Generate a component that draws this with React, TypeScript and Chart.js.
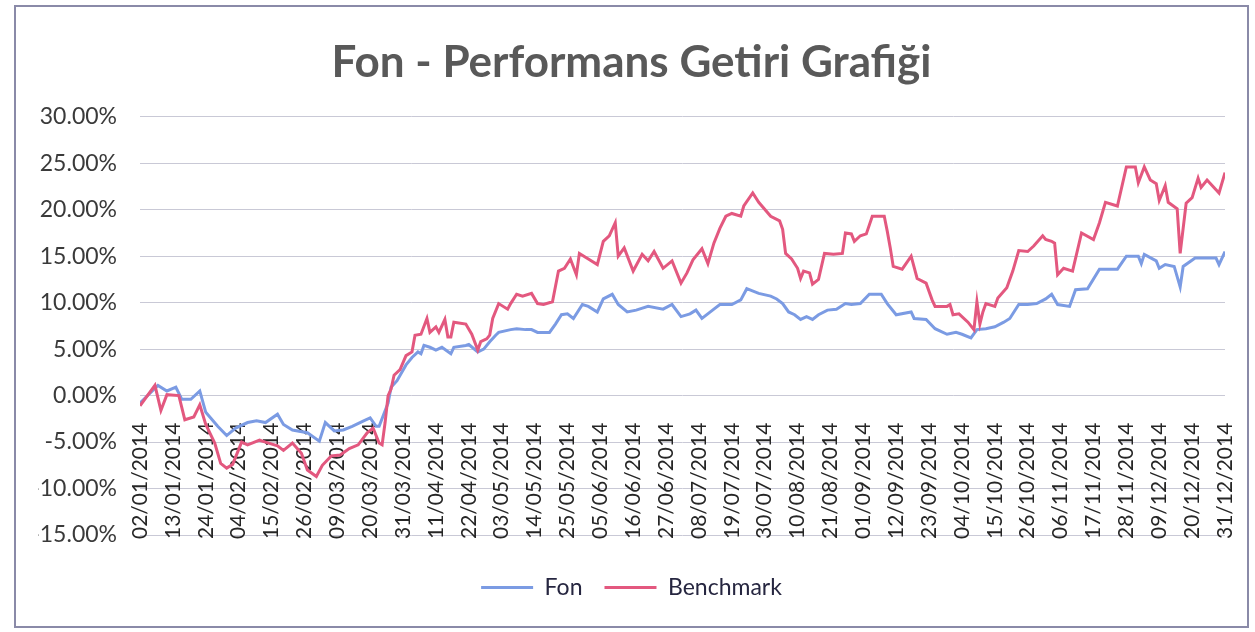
import React, { useEffect, useRef } from 'react';
import { Chart, registerables } from 'chart.js';

Chart.register(...registerables);

const chartTitle = 'Fon - Performans Getiri Grafiği';
const seriesNames = ['Fon', 'Benchmark'];

// x-axis labels every 11 days starting 02/01/2014
const tickLabels = [
  '02/01/2014', '13/01/2014', '24/01/2014', '04/02/2014', '15/02/2014', '26/02/2014',
  '09/03/2014', '20/03/2014', '31/03/2014', '11/04/2014', '22/04/2014', '03/05/2014',
  '14/05/2014', '25/05/2014', '05/06/2014', '16/06/2014', '27/06/2014', '08/07/2014',
  '19/07/2014', '30/07/2014', '10/08/2014', '21/08/2014', '01/09/2014', '12/09/2014',
  '23/09/2014', '04/10/2014', '15/10/2014', '26/10/2014', '06/11/2014', '17/11/2014',
  '28/11/2014', '09/12/2014', '20/12/2014', '31/12/2014',
];
const tickStepDays = 11;
const yTickValues = [-15, -10, -5, 0, 5, 10, 15, 20, 25, 30];

// days since 02/01/2014
const fonDays = [
  0, 6, 9, 12, 14, 17, 20, 22, 26, 29,
  32, 36, 39, 42, 46, 48, 51, 56, 60, 62,
  65, 68, 71, 75, 77, 79, 80, 83, 84, 86,
  89, 91, 93, 94, 95, 97, 99, 101, 104, 105,
  109, 110, 113, 115, 117, 119, 120, 124, 126, 129,
  131, 133, 137, 139, 141, 143, 145, 148, 150, 153,
  155, 158, 160, 163, 166, 170, 175, 178, 181, 184,
  186, 188, 192, 194, 198, 201, 203, 207, 211, 213,
  215, 217, 219, 221, 223, 225, 227, 230, 233, 236,
  238, 241, 244, 248, 250, 253, 258, 259, 263, 266,
  270, 273, 275, 278, 280, 283, 286, 289, 291, 294,
  297, 300, 303, 305, 307, 311, 313, 317, 321, 327,
  330, 334, 335, 336, 340, 341, 343, 346, 348, 349,
  353, 356, 360, 361, 363,
];
const fonValues = [
  -0.8, 1.1, 0.5, 0.9, -0.4, -0.4, 0.5, -1.8, -3.3, -4.3,
  -3.5, -2.9, -2.7, -2.9, -2.0, -3.1, -3.7, -4.0, -4.9, -2.9,
  -3.8, -3.7, -3.3, -2.7, -2.4, -3.3, -3.3, -0.8, 0.9, 1.6,
  3.3, 4.1, 4.7, 4.5, 5.4, 5.2, 4.9, 5.2, 4.5, 5.2,
  5.4, 5.5, 4.7, 5.0, 5.8, 6.5, 6.8, 7.1, 7.2, 7.1,
  7.1, 6.8, 6.8, 7.7, 8.7, 8.8, 8.3, 9.8, 9.6, 9.0,
  10.4, 10.9, 9.8, 9.0, 9.2, 9.6, 9.3, 9.8, 8.5, 8.8,
  9.2, 8.3, 9.3, 9.8, 9.8, 10.3, 11.5, 11.0, 10.7, 10.4,
  9.9, 9.0, 8.7, 8.2, 8.5, 8.2, 8.7, 9.2, 9.3, 9.9,
  9.8, 9.9, 10.9, 10.9, 9.9, 8.7, 9.0, 8.3, 8.2, 7.2,
  6.6, 6.8, 6.6, 6.2, 7.1, 7.2, 7.4, 7.9, 8.3, 9.8,
  9.8, 9.9, 10.4, 10.9, 9.8, 9.6, 11.4, 11.5, 13.6, 13.6,
  15.0, 15.0, 14.2, 15.2, 14.5, 13.7, 14.1, 13.9, 11.7, 13.9,
  14.8, 14.8, 14.8, 14.1, 15.5,
];

const benchDays = [
  0, 5, 7, 9, 13, 15, 18, 20, 22, 25,
  27, 29, 31, 34, 36, 40, 42, 46, 48, 51,
  54, 56, 59, 61, 64, 67, 70, 73, 76, 78,
  80, 81, 82, 83, 84, 85, 87, 89, 91, 92,
  94, 96, 97, 99, 100, 102, 103, 104, 105, 109,
  111, 113, 114, 116, 117, 118, 120, 123, 124, 126,
  128, 131, 133, 135, 138, 140, 142, 144, 146, 147,
  150, 153, 155, 157, 159, 160, 162, 165, 168, 170,
  172, 175, 178, 181, 183, 185, 188, 190, 192, 194,
  196, 198, 201, 202, 205, 207, 211, 214, 215, 216,
  218, 220, 221, 222, 224, 225, 227, 229, 232, 235,
  236, 238, 239, 241, 243, 245, 249, 250, 251, 252,
  255, 258, 260, 263, 265, 266, 270, 271, 272, 274,
  277, 279, 280, 281, 282, 283, 286, 287, 290, 292,
  294, 297, 299, 302, 303, 305, 306, 307, 309, 312,
  315, 319, 321, 323, 327, 330, 333, 334, 336, 338,
  340, 341, 343, 344, 347, 348, 350, 352, 354, 355,
  357, 361, 363,
];
const benchValues = [
  -1.1, 1.1, -1.6, 0.1, 0.0, -2.6, -2.3, -1.0, -3.1, -5.1,
  -7.3, -7.8, -7.4, -5.0, -5.3, -4.8, -5.0, -5.4, -5.9, -5.1,
  -6.2, -8.0, -8.7, -7.5, -6.5, -6.4, -5.7, -5.3, -4.0, -3.5,
  -5.1, -5.3, -2.9, 0.0, 0.7, 2.2, 2.8, 4.3, 4.7, 6.5,
  6.6, 8.3, 6.8, 7.4, 6.8, 8.2, 6.3, 6.3, 7.9, 7.7,
  6.6, 4.9, 5.8, 6.1, 6.5, 8.3, 9.9, 9.3, 9.9, 10.9,
  10.7, 11.0, 9.9, 9.8, 10.1, 13.4, 13.7, 14.7, 13.0, 15.3,
  14.7, 14.1, 16.6, 17.2, 18.6, 15.0, 15.9, 13.4, 15.2, 14.5,
  15.5, 13.7, 14.5, 12.1, 13.2, 14.6, 15.8, 14.2, 16.4, 18.0,
  19.3, 19.6, 19.3, 20.4, 21.8, 20.8, 19.3, 18.8, 17.9, 15.3,
  14.7, 13.7, 12.6, 13.4, 13.2, 12.0, 12.5, 15.3, 15.2, 15.3,
  17.5, 17.4, 16.6, 17.2, 17.4, 19.3, 19.3, 17.7, 15.9, 13.9,
  13.6, 15.0, 12.6, 12.1, 10.3, 9.6, 9.6, 9.8, 8.7, 8.8,
  7.9, 7.1, 10.1, 7.7, 9.0, 9.9, 9.6, 10.5, 11.6, 13.4,
  15.6, 15.5, 16.1, 17.2, 16.8, 16.6, 16.4, 13.0, 13.7, 13.4,
  17.5, 16.8, 18.6, 20.8, 20.4, 24.6, 24.6, 22.9, 24.6, 23.2,
  22.8, 21.0, 22.6, 20.8, 20.1, 15.3, 20.7, 21.3, 23.4, 22.4,
  23.2, 21.8, 24.0,
];

const BLUE = '#7b9be3';
const PINK = '#e3587f';
const FONT = 'Lato, "Open Sans", sans-serif';

export default function App() {
  const ref = useRef<HTMLCanvasElement>(null);

  useEffect(() => {
    if (!ref.current) return;
    const chart = new Chart(ref.current, {
      type: 'line',
      data: {
        datasets: [
          {
            label: seriesNames[0],
            data: fonDays.map((d, i) => ({ x: d, y: fonValues[i] })),
            borderColor: BLUE,
            backgroundColor: BLUE,
            borderWidth: 3,
            pointRadius: 0,
            pointStyle: 'line',
            tension: 0,
            order: 1,
          },
          {
            label: seriesNames[1],
            data: benchDays.map((d, i) => ({ x: d, y: benchValues[i] })),
            borderColor: PINK,
            backgroundColor: PINK,
            borderWidth: 3,
            pointRadius: 0,
            pointStyle: 'line',
            tension: 0,
            order: 0,
          },
        ],
      },
      options: {
        animation: false,
        responsive: false,
        maintainAspectRatio: false,
        layout: { padding: { left: 22, right: 22, top: 0, bottom: 17 } },
        plugins: {
          title: {
            display: true,
            text: chartTitle,
            color: '#595959',
            font: { family: FONT, size: 44, weight: 'bold', lineHeight: 1.2 },
            padding: { top: 29, bottom: 28 },
          },
          legend: {
            display: true,
            position: 'bottom',
            title: { display: true, text: '', font: { size: 1, lineHeight: 1 }, padding: { top: 18, bottom: 0 } },
            labels: {
              usePointStyle: true,
              pointStyleWidth: 52,
              padding: 22,
              color: '#262640',
              font: { family: FONT, size: 23 },
              sort: (a: any, b: any) => a.datasetIndex - b.datasetIndex,
            },
          },
          tooltip: { enabled: false },
        },
        scales: {
          x: {
            type: 'linear',
            position: { y: 0 } as any,
            min: 0,
            max: (tickLabels.length - 1) * tickStepDays,
            grid: { display: false, drawTicks: false },
            border: { display: false },
            afterBuildTicks: (s: any) => {
              s.ticks = tickLabels.map((_, i) => ({ value: i * tickStepDays }));
            },
            afterFit: (s: any) => {
              s.paddingLeft = 0;
              s.paddingRight = 0;
            },
            ticks: {
              autoSkip: false,
              maxRotation: 90,
              minRotation: 90,
              padding: 27,
              color: '#262626',
              font: { family: FONT, size: 21 },
              callback: (v: any) => tickLabels[Math.round(Number(v) / tickStepDays)],
            },
          },
          y: {
            min: -15,
            max: 30,
            afterBuildTicks: (s: any) => {
              s.ticks = yTickValues.map((v) => ({ value: v }));
            },
            afterFit: (s: any) => {
              s.width = 102;
            },
            grid: { color: '#c9c9d6', lineWidth: 1, drawTicks: false },
            border: { display: false },
            ticks: {
              padding: 23,
              color: '#3a3a3a',
              font: { family: FONT, size: 23 },
              callback: (v: any) => Number(v).toFixed(2) + '%',
            },
          },
        },
      },
    });
    return () => chart.destroy();
  }, []);

  return (
    <div
      style={{
        position: 'fixed',
        left: 14,
        top: 5,
        width: 1235,
        height: 623,
        boxSizing: 'border-box',
        border: '2px solid #8a8aa8',
        background: '#ffffff',
      }}
    >
      <canvas ref={ref} width={1231} height={619} style={{ display: 'block' }} />
    </div>
  );
}
